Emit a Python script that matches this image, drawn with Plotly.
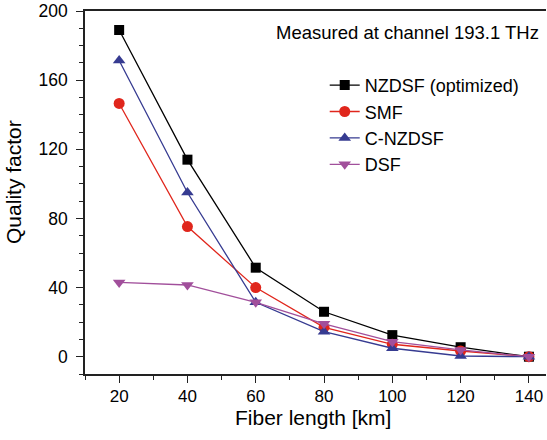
import plotly.graph_objects as go

fiber_length = [20, 40, 60, 80, 100, 120, 140]
nzdsf = [189, 114, 51.5, 26, 12.5, 5.5, 0]
smf = [146.5, 75.3, 40, 17, 7.2, 3.3, 0]
cnzdsf = [171.4, 95, 31.5, 14.5, 4.9, 0.4, 0]
dsf = [43, 41.5, 31.5, 19, 8.7, 3.9, 0]

series = [
    ("NZDSF (optimized)", nzdsf, "#000000", "square", 10),
    ("SMF", smf, "#e0261c", "circle", 11),
    ("C-NZDSF", cnzdsf, "#363b91", "triangle-up", 11),
    ("DSF", dsf, "#a14f9b", "triangle-down", 11),
]

fig = go.Figure()
for name, vals, color, sym, size in series:
    fig.add_trace(go.Scatter(
        x=fiber_length, y=vals, name=name, mode="lines+markers",
        line=dict(color=color, width=1.3),
        marker=dict(symbol=sym, size=size, color=color),
    ))

font_family = "Liberation Sans, Arial, sans-serif"
fig.update_layout(
    width=547, height=440,
    margin=dict(l=85, r=1, t=11, b=66),
    plot_bgcolor="white", paper_bgcolor="white",
    font=dict(family=font_family, color="#000000"),
    showlegend=True,
    legend=dict(x=0.52, y=0.846, xanchor="left", yanchor="top",
                font=dict(size=18, family=font_family),
                bgcolor="rgba(0,0,0,0)", tracegroupgap=0, itemwidth=30),
    xaxis=dict(
        range=[10, 145], tickvals=[20, 40, 60, 80, 100, 120, 140],
        showline=True, linecolor="#222", linewidth=1.5, mirror=True,
        ticks="outside", ticklen=7, tickwidth=1.2, tickcolor="#222",
        ticklabelstandoff=-1,
        minor=dict(tickvals=[10, 30, 50, 70, 90, 110, 130], ticks="outside",
                   ticklen=4, tickwidth=1.2, tickcolor="#222", showgrid=False),
        showgrid=False, zeroline=False,
        tickfont=dict(size=17),
    ),
    yaxis=dict(
        range=[-10, 200], tickvals=[0, 40, 80, 120, 160, 200],
        showline=True, linecolor="#222", linewidth=1.5, mirror=False,
        ticks="outside", ticklen=7, tickwidth=1.2, tickcolor="#222",
        ticklabelstandoff=5,
        minor=dict(tickvals=[-10, 10, 20, 30, 50, 60, 70, 90, 100, 110, 130, 140, 150, 170, 180, 190],
                   ticks="outside", ticklen=4, tickwidth=1.2, tickcolor="#222", showgrid=False),
        showgrid=False, zeroline=False,
        tickfont=dict(size=17.5),
    ),
    annotations=[
        dict(text="Measured at channel 193.1 THz", xref="paper", yref="paper",
             x=0.99, y=0.975, xanchor="right", yanchor="top", showarrow=False,
             font=dict(size=18.5, family=font_family)),
        dict(text="Fiber length [km]", xref="paper", yref="paper",
             x=0.495, y=-0.1185, xanchor="center", yanchor="middle", showarrow=False,
             font=dict(size=21, family=font_family)),
        dict(text="Quality factor", xref="paper", yref="paper", textangle=-90,
             x=-0.154, y=0.529, xanchor="center", yanchor="middle", showarrow=False,
             font=dict(size=21, family=font_family)),
    ],
)

fig.write_html("out.html", config={"displayModeBar": False},
               post_script="document.body.style.margin='0';document.body.style.overflow='hidden';")
